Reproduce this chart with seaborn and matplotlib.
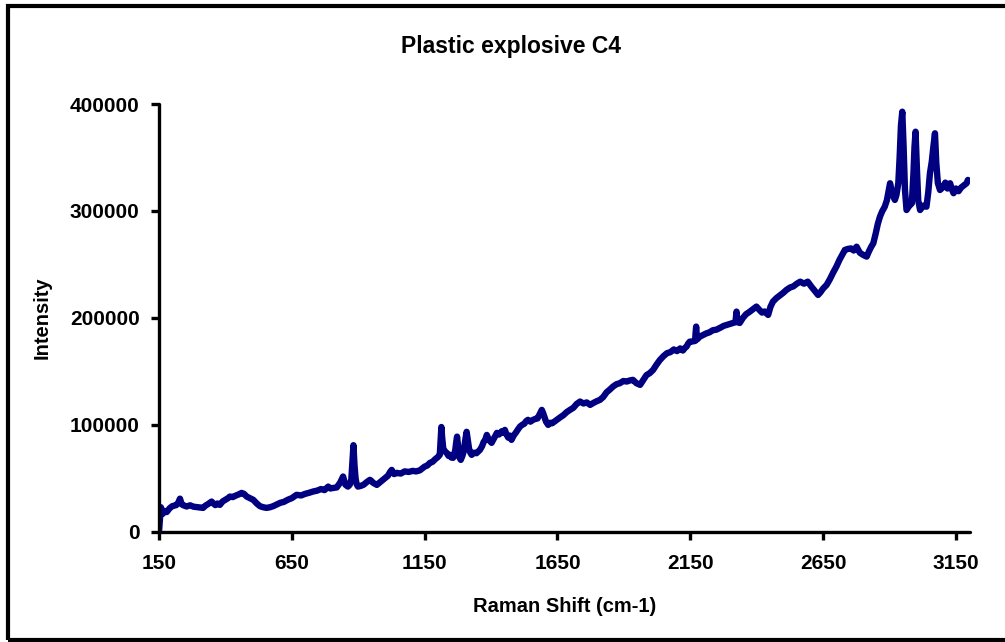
import matplotlib
matplotlib.use("Agg")
import matplotlib.pyplot as plt
from matplotlib.patches import Rectangle
import seaborn as sns
import pandas as pd

# Raman spectrum of plastic explosive C4 (shift in cm-1, intensity in counts)
raman_shift = [
    150, 157, 165, 172, 179, 190, 200, 215, 222, 229, 235, 240, 254, 267, 280,
    298, 316, 325, 335, 348, 355, 362, 370, 379, 390, 400, 410, 417, 428, 440,
    450, 461, 470, 480, 492, 505, 518, 530, 542, 555, 568, 580, 593, 606, 620,
    635, 650, 668, 685, 700, 715, 730, 745, 760, 773, 787, 795, 805, 819, 826,
    832, 838, 843, 848, 852, 861, 868, 874, 879, 882, 886, 890, 894, 899, 910,
    920, 932, 944, 950, 955, 962, 970, 985, 1000, 1012, 1020, 1026, 1035, 1045,
    1060, 1075, 1090, 1105, 1118, 1132, 1142, 1150, 1160, 1170, 1180, 1190, 1200,
    1207, 1210, 1213, 1216, 1220, 1227, 1233, 1240, 1245, 1250, 1257, 1265, 1269,
    1272, 1276, 1280, 1286, 1292, 1297, 1303, 1308, 1313, 1317, 1322, 1327, 1335,
    1345, 1358, 1366, 1372, 1378, 1384, 1392, 1402, 1410, 1416, 1422, 1430, 1440,
    1446, 1452, 1458, 1465, 1471, 1477, 1485, 1494, 1502, 1509, 1517, 1525, 1532,
    1539, 1548, 1558, 1566, 1575, 1583, 1591, 1596, 1600, 1607, 1615, 1623, 1630,
    1638, 1647, 1660, 1672, 1685, 1697, 1710, 1722, 1735, 1748, 1760, 1773, 1785,
    1797, 1810, 1822, 1835, 1847, 1859, 1872, 1885, 1898, 1911, 1922, 1934, 1947,
    1961, 1973, 1985, 1998, 2010, 2022, 2035, 2048, 2062, 2075, 2088, 2100, 2112,
    2122, 2130, 2136, 2142, 2148, 2158, 2168, 2170, 2172, 2174, 2176, 2186, 2198,
    2210, 2222, 2235, 2248, 2262, 2275, 2288, 2300, 2310, 2320, 2322, 2324, 2326,
    2328, 2336, 2348, 2360, 2372, 2385, 2399, 2410, 2420, 2430, 2443, 2452, 2461,
    2474, 2487, 2500, 2512, 2526, 2538, 2551, 2564, 2578, 2592, 2605, 2618, 2631,
    2640, 2650, 2663, 2675, 2688, 2700, 2712, 2722, 2732, 2743, 2755, 2765, 2776,
    2788, 2800, 2814, 2822, 2831, 2839, 2848, 2856, 2864, 2872, 2882, 2890, 2896,
    2902, 2910, 2920, 2926, 2933, 2938, 2943, 2948, 2953, 2958, 2964, 2972, 2984,
    2990, 2994, 2998, 3003, 3008, 3015, 3027, 3039, 3046, 3052, 3059, 3065, 3071,
    3076, 3082, 3090, 3100, 3110, 3118, 3128, 3135, 3141, 3150, 3160, 3170, 3180,
    3190, 3195,
]
intensity = [
    0, 23000, 17000, 19500, 18500, 22000, 24000, 25000, 27000, 31000, 26000,
    25000, 23700, 24800, 23500, 23000, 22400, 24500, 26000, 28300, 26500, 25000,
    26500, 25200, 28500, 30000, 31500, 33000, 32500, 34000, 35000, 36400, 35500,
    33000, 31500, 29900, 26500, 24000, 23000, 22400, 23000, 24000, 25500, 27100,
    28000, 30000, 31500, 34600, 34000, 35500, 36500, 37700, 38500, 40000, 39000,
    42300, 40500, 41000, 41500, 44000, 46000, 49000, 51700, 47000, 44000, 42300,
    44000, 49000, 70000, 81000, 62000, 50000, 44500, 42300, 43000, 44000, 46500,
    48600, 47500, 46000, 45000, 43900, 47000, 50000, 52500, 56000, 57900, 54000,
    55100, 54500, 56500, 56000, 57000, 56500, 57500, 59500, 61000, 62000, 64500,
    65500, 68000, 70000, 72000, 85000, 98000, 88000, 78000, 75000, 73800, 71000,
    72000, 69500, 69200, 76000, 84000, 89000, 80000, 70000, 67300, 71000, 75000,
    86000, 93500, 85000, 78000, 74000, 72000, 74000, 73500, 76600, 80000, 84000,
    86000, 90600, 86000, 83200, 87000, 90000, 92500, 91000, 94000, 92500, 95300,
    91000, 88000, 90000, 86000, 90000, 93000, 96000, 98400, 100000, 101000,
    103500, 104700, 103000, 104700, 105500, 106000, 110000, 114000, 111000,
    108000, 103000, 100000, 102000, 101500, 103000, 104700, 107000, 109000,
    112000, 114000, 116000, 119500, 121800, 120000, 121000, 118700, 120500,
    122000, 123400, 126000, 130500, 133000, 135800, 138000, 139000, 141000,
    140500, 141500, 142100, 139000, 137400, 142000, 146500, 148500, 151400,
    156000, 160500, 164000, 167000, 168000, 170500, 169000, 171500, 169500,
    172000, 173200, 176000, 177800, 178000, 178500, 186000, 191900, 185000,
    180000, 182500, 184000, 185500, 186500, 188500, 189000, 190700, 192500,
    193500, 194500, 195300, 196000, 201000, 205900, 200000, 196000, 195300,
    200000, 203500, 205500, 208000, 210600, 207500, 205000, 206000, 202800,
    210500, 215200, 218500, 221000, 223500, 226200, 228500, 229500, 232000,
    233900, 232000, 233900, 229500, 225500, 221500, 224000, 227500, 230800,
    236000, 242500, 248000, 254500, 259000, 263600, 264500, 265000, 263000,
    266600, 261000, 259000, 257300, 262000, 266500, 269800, 279000, 288000,
    294700, 299500, 304000, 310000, 318000, 325900, 316000, 310300, 315000,
    325900, 350000, 380000, 392800, 360000, 320000, 300900, 304000, 307200,
    335000, 360000, 374100, 340000, 310000, 300900, 305000, 304000, 318000,
    335000, 346100, 360000, 372600, 345000, 326000, 319600, 322000, 326500,
    321000, 325900, 320000, 316600, 321000, 318500, 322000, 324000, 325900,
    329000,
]

x_ticks = [150, 650, 1150, 1650, 2150, 2650, 3150]
y_ticks = [0, 100000, 200000, 300000, 400000]

spectrum = pd.DataFrame({"shift": raman_shift, "intensity": intensity})

sns.set_theme(style="white")
plt.rcParams["font.family"] = ["Liberation Sans", "DejaVu Sans"]
plt.rcParams["font.weight"] = "bold"
plt.rcParams["text.color"] = "black"
plt.rcParams["axes.labelcolor"] = "black"
plt.rcParams["xtick.color"] = "black"
plt.rcParams["ytick.color"] = "black"

fig = plt.figure(figsize=(10.05, 6.42), dpi=100)
ax = fig.add_axes([0.1582, 0.1716, 0.8070, 0.6664])

sns.lineplot(data=spectrum, x="shift", y="intensity", ax=ax,
             color="#000080", linewidth=4.6, sort=False)

ax.set_xlim(150, 3203)
ax.set_ylim(0, 400000)
ax.set_xticks(x_ticks)
ax.set_xticklabels([str(t) for t in x_ticks])
ax.set_yticks(y_ticks)
ax.set_yticklabels([str(t) for t in y_ticks])

for side in ("top", "right"):
    ax.spines[side].set_visible(False)
for side in ("left", "bottom"):
    ax.spines[side].set_linewidth(2.4)
    ax.spines[side].set_color("black")
    ax.spines[side].set_capstyle("round")

ax.tick_params(axis="both", which="major", direction="out", length=6,
               width=2.4, color="black", labelcolor="black", labelsize=15,
               bottom=True, left=True)
ax.tick_params(axis="x", pad=10)
ax.tick_params(axis="y", pad=8)
for lab in ax.get_xticklabels() + ax.get_yticklabels():
    lab.set_fontweight("bold")

ax.set_xlabel("Raman Shift (cm-1)", fontsize=14.5, fontweight="bold",
              color="black", labelpad=17)
ax.set_ylabel("Intensity", fontsize=14.5, fontweight="bold",
              color="black", labelpad=13)
fig.text(0.508, 0.928, "Plastic explosive C4", ha="center", va="center",
         fontsize=16.5, fontweight="bold", color="black")

# chart-area frame
fig.patches.append(Rectangle((8 / 1005, 2 / 642), 1.0, 634 / 642,
                             transform=fig.transFigure, fill=False,
                             edgecolor="black", linewidth=3.0))

fig.savefig("out.png", dpi=100, facecolor="white")
